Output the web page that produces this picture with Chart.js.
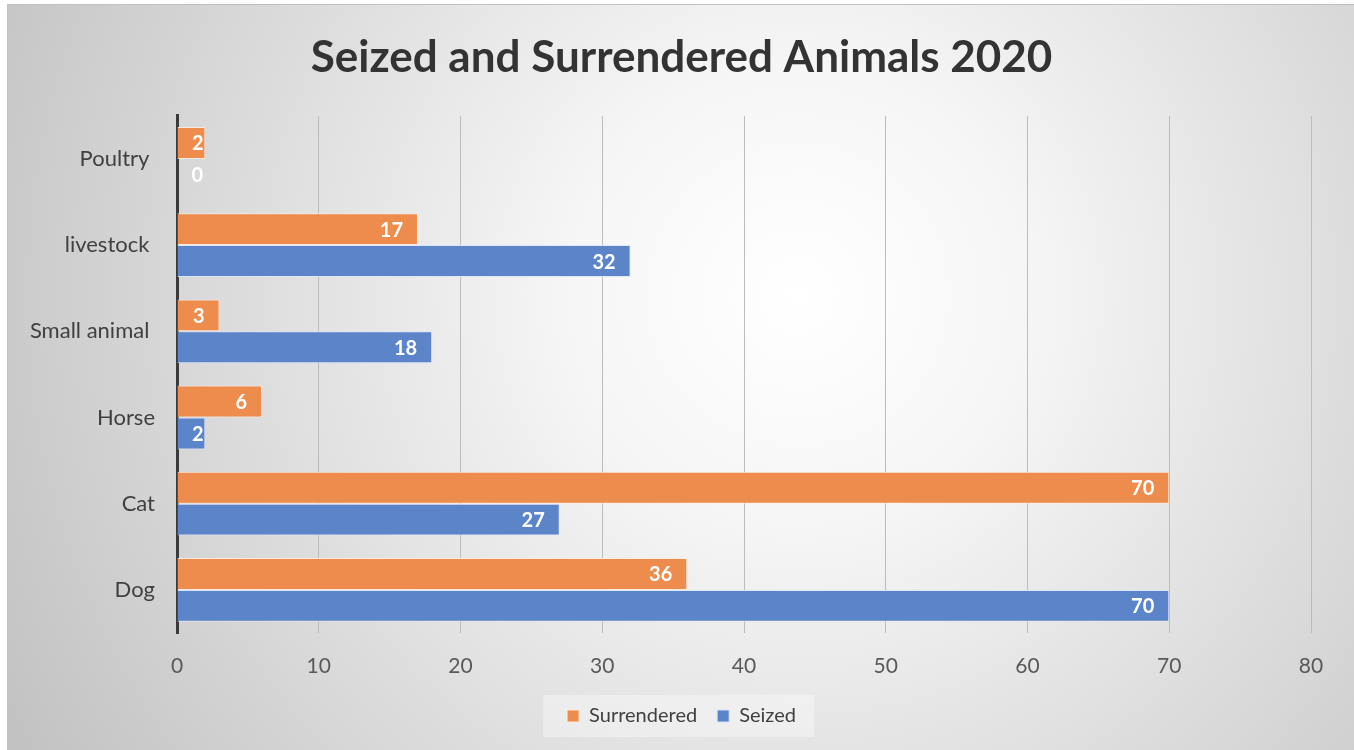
<!DOCTYPE html>
<html>
<head>
<meta charset="utf-8">
<script src="https://cdn.jsdelivr.net/npm/chart.js@4"></script>
<style>
  body { margin: 0; background: #fff; }
  #wrap { position: absolute; left: 7px; top: 4px; width: 1347px; height: 746px;
          border-top: 1px solid #c0c0c0; border-left: 1px solid #c0c0c0; }
</style>
</head>
<body>
<div id="wrap"><canvas id="chart"></canvas></div>
<script>
categories = ['Poultry ', 'livestock ', 'Small animal ', 'Horse', 'Cat', 'Dog']
surrendered = [2, 17, 3, 6, 70, 36]
seized = [0, 32, 18, 2, 27, 70]
xTicks = [0, 10, 20, 30, 40, 50, 60, 70, 80]

var FONT = 'Lato, "Open Sans", sans-serif';

// background gradient + light box behind legend
var backdrop = {
    id: 'backdrop',
    beforeDraw(chart) {
        var ctx = chart.ctx;
        ctx.save();
        var g = ctx.createRadialGradient(790, 290, 0, 790, 290, 900);
        g.addColorStop(0, '#ffffff');
        g.addColorStop(0.25, '#f6f6f6');
        g.addColorStop(1, '#c2c2c2');
        ctx.fillStyle = g;
        ctx.fillRect(0, 0, chart.width, chart.height);
        var boxes = chart.legend.legendHitBoxes;
        if (boxes && boxes.length) {
            var last = boxes[boxes.length - 1];
            var l = boxes[0].left - 24, r = last.left + last.width + 18;
            var t = boxes[0].top - 11, h = boxes[0].height + 22;
            ctx.fillStyle = 'rgba(255,255,255,0.35)';
            ctx.fillRect(l, t, r - l, h);
        }
        ctx.restore();
    }
};

// white value labels at the inside end of each bar
var valueLabels = {
    id: 'valueLabels',
    afterDatasetsDraw(chart) {
        var ctx = chart.ctx;
        ctx.save();
        ctx.fillStyle = '#ffffff';
        ctx.font = 'bold 20px ' + FONT;
        ctx.textAlign = 'right';
        ctx.textBaseline = 'middle';
        chart.data.datasets.forEach((ds, i) => {
            chart.getDatasetMeta(i).data.forEach((bar, j) => {
                var p = bar.getProps(['x', 'y', 'base'], true);
                ctx.fillText(String(ds.data[j]), Math.max(p.x - 15, p.base + 26), p.y + 1);
            });
        });
        ctx.restore();
    }
};

var ctx = document.getElementById('chart').getContext('2d');
new Chart(ctx, {
    type: 'bar',
    data: {
        labels: categories,
        datasets: [
            { label: 'Surrendered', data: surrendered, backgroundColor: '#ee8c4d',
              borderColor: 'rgba(255,235,220,0.9)', borderWidth: 1 },
            { label: 'Seized', data: seized, backgroundColor: '#5b84c9',
              borderColor: 'rgba(220,230,250,0.9)', borderWidth: 1 }
        ]
    },
    options: {
        indexAxis: 'y',
        responsive: true,
        maintainAspectRatio: false,
        animation: false,
        categoryPercentage: 0.74,
        barPercentage: 1.0,
        layout: { padding: { left: 0, right: 0, top: 0, bottom: 15 } },
        scales: {
            x: {
                min: 0, max: 80,
                afterBuildTicks(scale) { scale.ticks = xTicks.map(v => ({ value: v })); },
                afterFit(scale) { scale.height = 53; },
                grid: { color: '#bcbcbc', lineWidth: 1, drawTicks: false },
                border: { display: false },
                ticks: { color: '#595959', font: { family: FONT, size: 21 }, padding: 21 }
            },
            y: {
                afterFit(scale) { scale.width = 169; },
                grid: { display: false, drawTicks: false },
                border: { display: true, color: '#3a3a3a', width: 3 },
                ticks: { color: '#404040', font: { family: FONT, size: 22 }, padding: 22 }
            },
            // empty spacer on the right so the title and legend stay centred on the whole chart
            spacer: {
                axis: 'y',
                type: 'category',
                position: 'right',
                afterFit(scale) { scale.width = 44; },
                grid: { display: false, drawTicks: false },
                border: { display: false },
                ticks: { display: false }
            }
        },
        plugins: {
            title: {
                display: true,
                text: 'Seized and Surrendered Animals 2020',
                color: '#333333',
                font: { family: FONT, size: 44, weight: 'bold' },
                padding: { top: 26, bottom: 32 }
            },
            legend: {
                position: 'bottom',
                labels: { color: '#404040', font: { family: FONT, size: 20 }, boxWidth: 12, boxHeight: 12, padding: 20 }
            },
            tooltip: { enabled: false }
        }
    },
    plugins: [backdrop, valueLabels]
});
</script>
</body>
</html>
